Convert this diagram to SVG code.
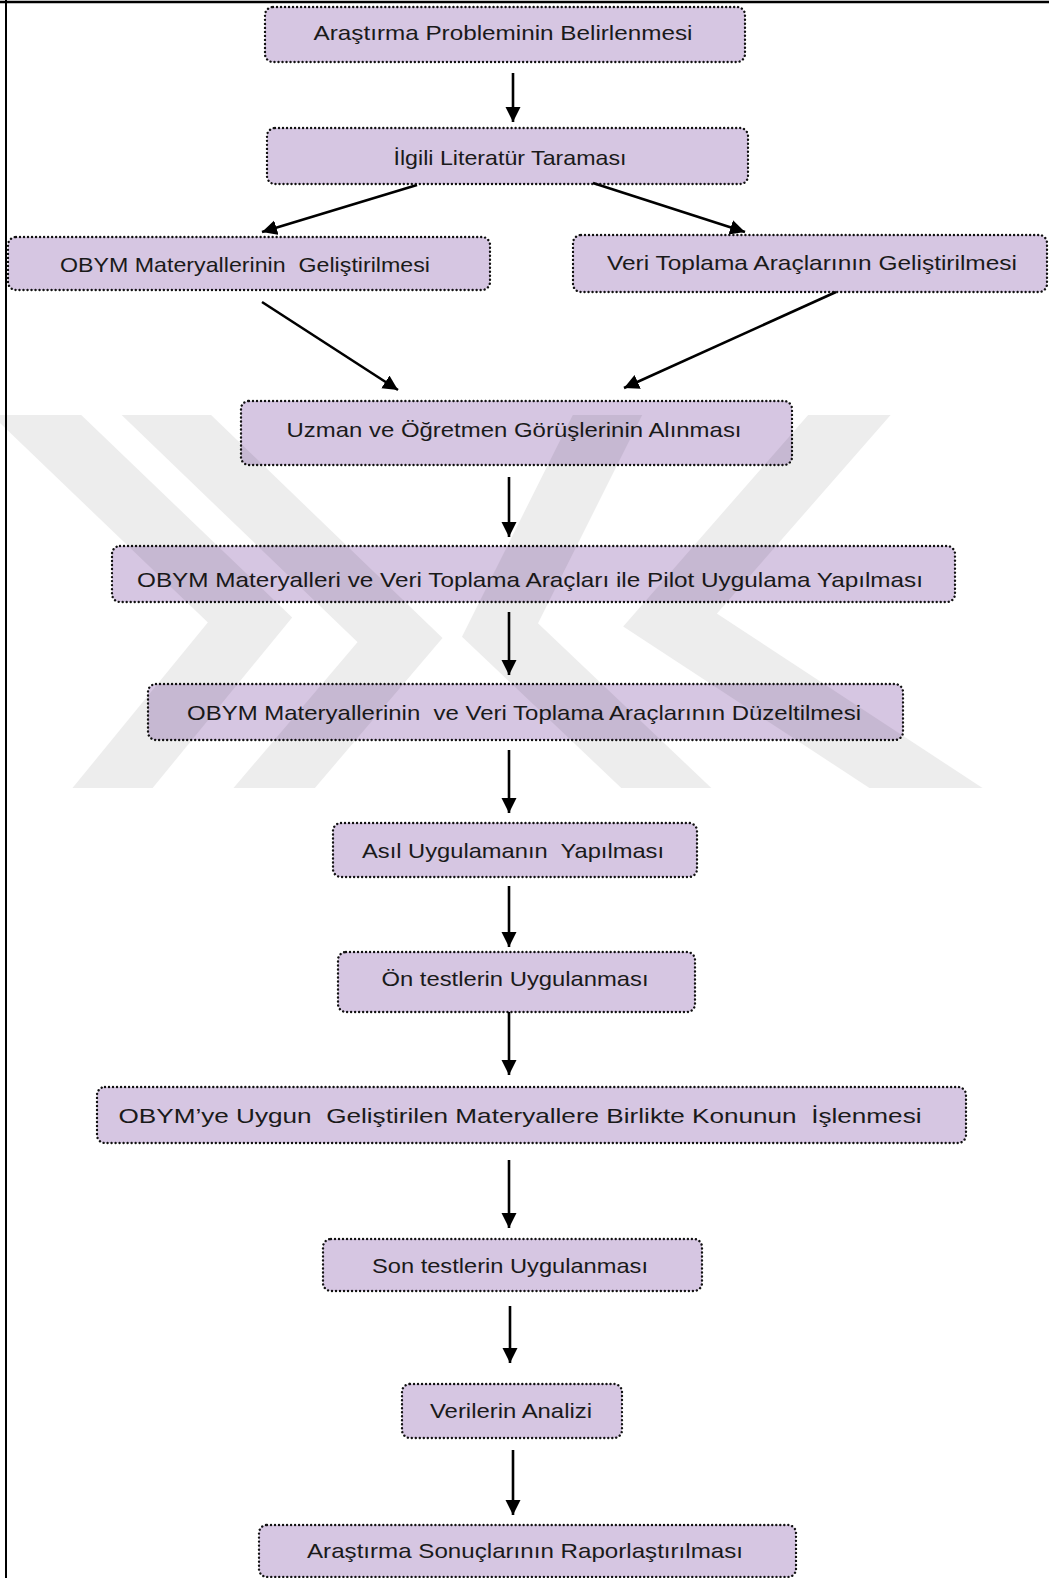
<svg xmlns="http://www.w3.org/2000/svg" width="1049" height="1578" viewBox="0 0 1049 1578">
<style>
.box{fill:#D6C6E2;stroke:#111;stroke-width:2.4;stroke-dasharray:0.01 4;stroke-linecap:round}
.t{font-family:"Liberation Sans",Arial,sans-serif;font-size:21px;fill:#1a1a1a;text-anchor:middle;white-space:pre}
.c{stroke:#000;stroke-width:2.6;fill:none;marker-end:url(#ah)}
.wm{fill:none;stroke:#000;stroke-width:62;stroke-linejoin:miter}
</style>
<defs>
<marker id="ah" markerUnits="userSpaceOnUse" markerWidth="16" markerHeight="16" refX="15" refY="7.5" orient="auto">
<path d="M0,0 L15,7.5 L0,15 z" fill="#000"/>
</marker>
<clipPath id="wmclip"><rect x="0" y="415" width="1049" height="373"/></clipPath>
</defs>
<rect x="0" y="0" width="1049" height="1578" fill="#fff"/>
<line x1="0" y1="2" x2="1049" y2="2" stroke="#000" stroke-width="2.5"/>
<line x1="6" y1="0" x2="6" y2="1578" stroke="#000" stroke-width="2"/>

<g id="n1"><rect class="box" x="265" y="7" width="480" height="55" rx="8"/><text class="t" x="503" y="40" textLength="379" lengthAdjust="spacingAndGlyphs">Araştırma Probleminin Belirlenmesi</text></g>
<g id="n2"><rect class="box" x="267" y="128" width="481" height="56" rx="8"/><text class="t" x="510" y="165" textLength="233" lengthAdjust="spacingAndGlyphs">İlgili Literatür Taraması</text></g>
<g id="n3"><rect class="box" x="8" y="237" width="482" height="53" rx="8"/><text class="t" x="245" y="272" textLength="370" lengthAdjust="spacingAndGlyphs">OBYM Materyallerinin  Geliştirilmesi</text></g>
<g id="n4"><rect class="box" x="573" y="235" width="474" height="57" rx="8"/><text class="t" x="812" y="270" textLength="410" lengthAdjust="spacingAndGlyphs">Veri Toplama Araçlarının Geliştirilmesi</text></g>
<g id="n5"><rect class="box" x="241" y="401" width="551" height="64" rx="8"/><text class="t" x="514" y="437" textLength="455" lengthAdjust="spacingAndGlyphs">Uzman ve Öğretmen Görüşlerinin Alınması</text></g>
<g id="n6"><rect class="box" x="112" y="546" width="843" height="56" rx="8"/><text class="t" x="530" y="587" textLength="786" lengthAdjust="spacingAndGlyphs">OBYM Materyalleri ve Veri Toplama Araçları ile Pilot Uygulama Yapılması</text></g>
<g id="n7"><rect class="box" x="148" y="684" width="755" height="56" rx="8"/><text class="t" x="524" y="720" textLength="674" lengthAdjust="spacingAndGlyphs">OBYM Materyallerinin  ve Veri Toplama Araçlarının Düzeltilmesi</text></g>
<g id="n8"><rect class="box" x="333" y="823" width="364" height="54" rx="8"/><text class="t" x="513" y="858" textLength="302" lengthAdjust="spacingAndGlyphs">Asıl Uygulamanın  Yapılması</text></g>
<g id="n9"><rect class="box" x="338" y="952" width="357" height="60" rx="8"/><text class="t" x="515" y="986" textLength="267" lengthAdjust="spacingAndGlyphs">Ön testlerin Uygulanması</text></g>
<g id="n10"><rect class="box" x="97" y="1087" width="869" height="56" rx="8"/><text class="t" x="520" y="1123" textLength="803" lengthAdjust="spacingAndGlyphs">OBYM’ye Uygun  Geliştirilen Materyallere Birlikte Konunun  İşlenmesi</text></g>
<g id="n11"><rect class="box" x="323" y="1239" width="379" height="52" rx="8"/><text class="t" x="510" y="1273" textLength="276" lengthAdjust="spacingAndGlyphs">Son testlerin Uygulanması</text></g>
<g id="n12"><rect class="box" x="402" y="1384" width="220" height="54" rx="8"/><text class="t" x="511" y="1418" textLength="162" lengthAdjust="spacingAndGlyphs">Verilerin Analizi</text></g>
<g id="n13"><rect class="box" x="259" y="1525" width="537" height="52" rx="8"/><text class="t" x="525" y="1558" textLength="436" lengthAdjust="spacingAndGlyphs">Araştırma Sonuçlarının Raporlaştırılması</text></g>

<g id="connectors">
<line class="c" x1="513" y1="73" x2="513" y2="122"/>
<line class="c" x1="417" y1="185" x2="262" y2="232"/>
<line class="c" x1="593" y1="183" x2="745" y2="232"/>
<line class="c" x1="262" y1="302" x2="398" y2="390"/>
<line class="c" x1="836" y1="292" x2="624" y2="388"/>
<line class="c" x1="509" y1="477" x2="509" y2="537"/>
<line class="c" x1="509" y1="612" x2="509" y2="675"/>
<line class="c" x1="509" y1="750" x2="509" y2="813"/>
<line class="c" x1="509" y1="886" x2="509" y2="947"/>
<line class="c" x1="509" y1="1012" x2="509" y2="1075"/>
<line class="c" x1="509" y1="1160" x2="509" y2="1228"/>
<line class="c" x1="510" y1="1306" x2="510" y2="1363"/>
<line class="c" x1="513" y1="1450" x2="513" y2="1515"/>
</g>

<g id="watermark" clip-path="url(#wmclip)" opacity="0.065">
<polyline class="wm" points="0,380 250,620 70,840"/>
<polyline class="wm" points="130,380 400,640 230,840"/>
<polyline class="wm" points="880,380 670,620 990,830"/>
<polyline class="wm" points="620,390 500,630 700,820"/>
</g>
</svg>
